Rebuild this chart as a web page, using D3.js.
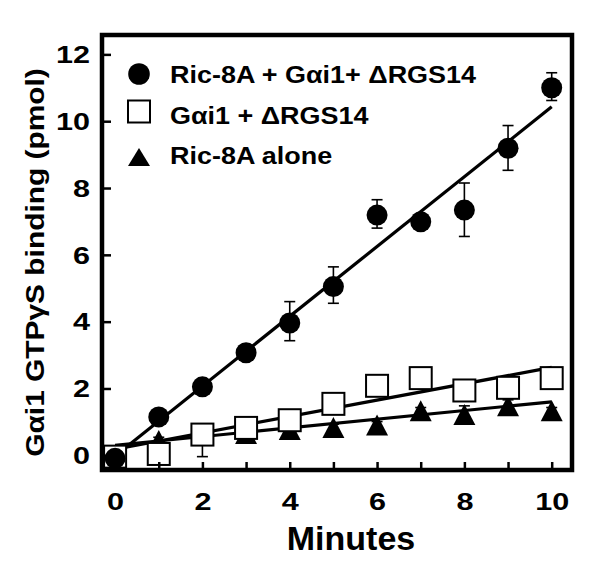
<!DOCTYPE html>
<html>
<head>
<meta charset="utf-8">
<script src="https://cdn.jsdelivr.net/npm/d3@7"></script>
<style>
  html, body { margin: 0; padding: 0; background: #fff; }
  svg { display: block; }
  text { font-family: "Liberation Sans", Arial, Helvetica, sans-serif; font-weight: bold; fill: #000; }
</style>
</head>
<body>
<svg id="chart" width="600" height="577"></svg>
<script>
// ---- data ----
const minutes = [0, 1, 2, 3, 4, 5, 6, 7, 8, 9, 10];

const ric8aGai1        = [-0.09, 1.15, 2.05, 3.07, 3.96, 5.05, 7.19, 6.99, 7.34, 9.19, 11.0];
const ric8aGai1ErrUp   = [0.10, 0.15, 0.15, 0.15, 0.64, 0.59, 0.46, 0.20, 0.81, 0.68, 0.45];
const ric8aGai1ErrDown = [0.10, 0.15, 0.15, 0.15, 0.53, 0.50, 0.39, 0.20, 0.79, 0.66, 0.38];

const gai1Rgs14        = [-0.04, 0.04, 0.62, 0.82, 1.05, 1.54, 2.08, 2.31, 1.94, 2.02, 2.31];
const gai1Rgs14ErrUp   = [0.10, 0.10, 0.00, 0.10, 0.10, 0.10, 0.10, 0.10, 0.10, 0.10, 0.10];
const gai1Rgs14ErrDown = [0.10, 0.10, 0.66, 0.10, 0.10, 0.10, 0.10, 0.10, 0.10, 0.10, 0.10];

const ric8aAlone        = [0.00, 0.44, 0.62, 0.65, 0.77, 0.83, 0.91, 1.33, 1.22, 1.48, 1.33];
const ric8aAloneErrUp   = [0.10, 0.10, 0.10, 0.10, 0.10, 0.10, 0.10, 0.10, 0.26, 0.18, 0.10];
const ric8aAloneErrDown = [0.10, 0.10, 0.10, 0.10, 0.10, 0.10, 0.10, 0.10, 0.10, 0.10, 0.10];

// linear fit end points [minutes, pmol]
const fitRic8aGai1  = [[0, -0.02], [10, 10.43]];
const fitGai1Rgs14  = [[0, 0.18], [10, 2.63]];
const fitRic8aAlone = [[0, 0.30], [10, 1.60]];

const xTickValues = [0, 1, 2, 3, 4, 5, 6, 7, 8, 9, 10];
const xTickLabels = [0, 2, 4, 6, 8, 10];
const yTickValues = [0, 2, 4, 6, 8, 10, 12];

const legendLabels = ["Ric-8A + G\u03b1i1+ \u0394RGS14", "G\u03b1i1 + \u0394RGS14", "Ric-8A alone"];
const xTitle = "Minutes";
const yTitle = "G\u03b1i1 GTP\u03b3S binding (pmol)";

// ---- layout ----
const svg = d3.select("#chart");
const x = d3.scaleLinear().domain([-0.3, 10.465]).range([102, 572]);
const y = d3.scaleLinear().domain([-0.44, 12.58]).range([470, 35]);

const DIGIT_SX = 1.33;

// fit lines
const line = d3.line().x(d => x(d[0])).y(d => y(d[1]));
[fitRic8aGai1, fitGai1Rgs14, fitRic8aAlone].forEach(f => {
  svg.append("path").attr("d", line(f))
    .attr("fill", "none").attr("stroke", "#000").attr("stroke-width", 3.2);
});

// error bars (drawn only where the error is non-zero)
function errorBars(vals, up, down) {
  const g = svg.append("g").attr("stroke", "#000").attr("stroke-width", 1.6).attr("fill", "none");
  minutes.forEach((m, i) => {
    const cx = x(m), yc = y(vals[i]);
    if (up[i] > 0) {
      const y1 = y(vals[i] + up[i]);
      g.append("line").attr("x1", cx).attr("x2", cx).attr("y1", yc).attr("y2", y1);
      g.append("line").attr("x1", cx - 5.5).attr("x2", cx + 5.5).attr("y1", y1).attr("y2", y1);
    }
    if (down[i] > 0) {
      const y0 = y(vals[i] - down[i]);
      g.append("line").attr("x1", cx).attr("x2", cx).attr("y1", yc).attr("y2", y0);
      g.append("line").attr("x1", cx - 5.5).attr("x2", cx + 5.5).attr("y1", y0).attr("y2", y0);
    }
  });
}
errorBars(ric8aAlone, ric8aAloneErrUp, ric8aAloneErrDown);
errorBars(gai1Rgs14, gai1Rgs14ErrUp, gai1Rgs14ErrDown);
errorBars(ric8aGai1, ric8aGai1ErrUp, ric8aGai1ErrDown);

// markers
const triPath = (w, h) => `M0,${-h/2}L${w/2},${h/2}L${-w/2},${h/2}Z`;
svg.append("g").selectAll("path").data(ric8aAlone).join("path")
  .attr("d", triPath(22, 21))
  .attr("transform", (d, i) => `translate(${x(minutes[i])},${y(d)})`)
  .attr("fill", "#000");

svg.append("g").selectAll("rect").data(gai1Rgs14).join("rect")
  .attr("x", (d, i) => x(minutes[i]) - 11).attr("y", d => y(d) - 11)
  .attr("width", 22).attr("height", 22)
  .attr("fill", "#fff").attr("stroke", "#000").attr("stroke-width", 2);

svg.append("g").selectAll("circle").data(ric8aGai1).join("circle")
  .attr("cx", (d, i) => x(minutes[i])).attr("cy", d => y(d)).attr("r", 10.5)
  .attr("fill", "#000");

// axes (ticks inward)
const xAxis = svg.append("g").attr("transform", "translate(0,470)")
  .call(d3.axisBottom(x).tickValues(xTickValues).tickSize(-8)
    .tickFormat(d => xTickLabels.includes(d) ? d : ""));
xAxis.select(".domain").remove();
xAxis.selectAll(".tick line").attr("stroke", "#000").attr("stroke-width", 2.5);
xAxis.selectAll(".tick text")
  .attr("y", 0).attr("dy", 0)
  .attr("transform", `translate(0,39.5) scale(${DIGIT_SX},1)`)
  .style("font-size", "23px").style("font-family", "'Liberation Sans', Arial, sans-serif")
  .style("font-weight", "bold").attr("fill", "#000");

const yAxis = svg.append("g").attr("transform", "translate(102,0)")
  .call(d3.axisLeft(y).tickValues(yTickValues).tickSize(-9));
yAxis.select(".domain").remove();
yAxis.selectAll(".tick line").attr("stroke", "#000").attr("stroke-width", 2.5);
yAxis.selectAll(".tick text")
  .attr("x", 0).attr("dy", "0.36em")
  .attr("transform", `translate(-12,0) scale(${DIGIT_SX},1)`)
  .style("font-size", "23px").style("font-family", "'Liberation Sans', Arial, sans-serif")
  .style("font-weight", "bold").attr("fill", "#000");

// frame
svg.append("rect").attr("x", 102).attr("y", 35).attr("width", 470).attr("height", 435)
  .attr("fill", "none").attr("stroke", "#000").attr("stroke-width", 4.5);

// legend
const legY = [74, 112, 157];
const leg = svg.append("g");
leg.append("circle").attr("cx", 139).attr("cy", legY[0]).attr("r", 10.8).attr("fill", "#000");
leg.append("rect").attr("x", 128).attr("y", legY[1] - 11.5).attr("width", 22).attr("height", 22)
  .attr("fill", "#fff").attr("stroke", "#000").attr("stroke-width", 2);
leg.append("path").attr("d", triPath(22, 18)).attr("transform", `translate(139,${legY[2]})`).attr("fill", "#000");
const legBase = [82.7, 124, 163.5];
legendLabels.forEach((t, i) => {
  leg.append("text").attr("transform", `translate(170,${legBase[i]}) scale(1.1,1)`)
    .style("font-size", "24.5px").text(t);
});

// axis titles
svg.append("text").attr("x", 351).attr("y", 550).attr("text-anchor", "middle")
  .style("font-size", "34px").text(xTitle);
svg.append("text").attr("transform", "translate(43.5,262.5) rotate(-90) scale(1.15,1)")
  .attr("text-anchor", "middle").style("font-size", "26px").text(yTitle);
</script>
</body>
</html>
